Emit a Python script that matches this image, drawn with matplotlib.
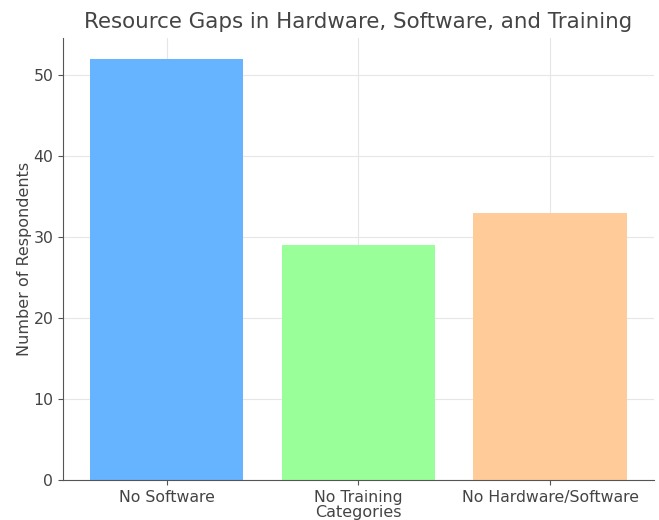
import matplotlib
matplotlib.use("Agg")
import matplotlib.pyplot as plt

categories = ["No Software", "No Training", "No Hardware/Software"]
respondents = [52, 29, 33]
bar_colors = ["#66b3ff", "#99ff99", "#ffcc99"]

text_color = "#444444"
plt.rcParams["font.family"] = ["DejaVu Sans"]

fig = plt.figure(figsize=(6.59, 5.2), dpi=100)
ax = fig.add_axes([0.0956, 0.0769, 0.8964, 0.8500])

ax.bar(categories, respondents, color=bar_colors, width=0.8, zorder=2)

ax.set_title("Resource Gaps in Hardware, Software, and Training",
             fontsize=15.4, color=text_color, pad=7)
ax.set_xlabel("Categories", fontsize=11.5, color=text_color, labelpad=0)
ax.set_ylabel("Number of Respondents", fontsize=11.5, color=text_color,
              labelpad=1)

ax.grid(True, color="#e6e6e6", linewidth=0.8, zorder=0)
ax.set_axisbelow(True)
for side in ("top", "right"):
    ax.spines[side].set_visible(False)
for side in ("left", "bottom"):
    ax.spines[side].set_color("#555555")
ax.tick_params(colors="#555555", labelcolor=text_color, labelsize=11.3)

fig.savefig("out.png", dpi=100)
